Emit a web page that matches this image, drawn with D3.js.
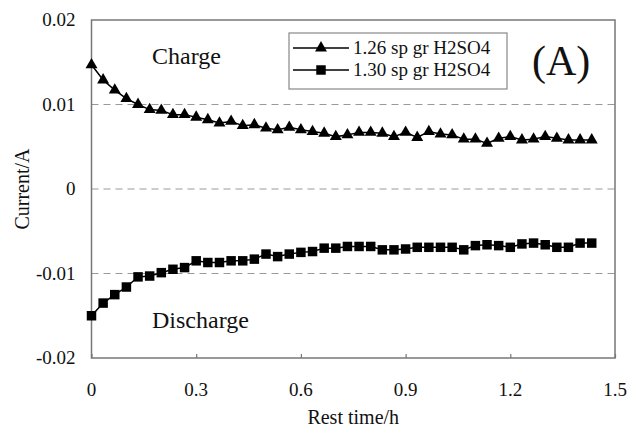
<!DOCTYPE html>
<html>
<head>
<meta charset="utf-8">
<script src="https://cdn.jsdelivr.net/npm/d3@7"></script>
<style>
  body { margin: 0; background: #fff; }
  text { font-family: "Liberation Serif", "DejaVu Serif", serif; fill: #111; }
</style>
</head>
<body>
<div id="chart"></div>
<script>
// rest time sampled every 2 minutes (1/30 h), 44 samples
const restTime = d3.range(44).map(i => i / 30);

const charge126 = [
  0.0147, 0.0129, 0.0117, 0.0107, 0.0100, 0.0094, 0.0093, 0.0088, 0.0088, 0.0085,
  0.0082, 0.0078, 0.0080, 0.0075, 0.0076, 0.0072, 0.0070, 0.0073, 0.0070, 0.0068,
  0.0066, 0.0062, 0.0064, 0.0067, 0.0067, 0.0066, 0.0062, 0.0067, 0.0061, 0.0068,
  0.0065, 0.0064, 0.0059, 0.0059, 0.0054, 0.0060, 0.0062, 0.0058, 0.0059, 0.0062,
  0.0060, 0.0058, 0.0058, 0.0058
];

const discharge130 = [
  -0.0150, -0.0135, -0.0125, -0.0116, -0.0104, -0.0103, -0.0099, -0.0095, -0.0093, -0.0085,
  -0.0087, -0.0087, -0.0085, -0.0085, -0.0083, -0.0077, -0.0080, -0.0077, -0.0075, -0.0074,
  -0.0070, -0.0070, -0.0068, -0.0068, -0.0068, -0.0072, -0.0072, -0.0071, -0.0069, -0.0069,
  -0.0069, -0.0069, -0.0072, -0.0067, -0.0066, -0.0067, -0.0069, -0.0065, -0.0064, -0.0066,
  -0.0069, -0.0069, -0.0064, -0.0064
];

const xTicks = [0, 0.3, 0.6, 0.9, 1.2, 1.5];
const yTicks = [-0.02, -0.01, 0, 0.01, 0.02];
const gridValues = [-0.01, 0, 0.01];
const seriesNames = ["1.26 sp gr H2SO4", "1.30 sp gr H2SO4"];

const width = 628, height = 428;
const margin = { top: 20, right: 13, bottom: 70, left: 91.5 };

const svg = d3.select("#chart").append("svg")
  .attr("width", width).attr("height", height);

const x = d3.scaleLinear().domain([0, 1.5]).range([margin.left, width - margin.right]);
const y = d3.scaleLinear().domain([-0.02, 0.02]).range([height - margin.bottom, margin.top]);

// plain hyphen minus like the original
const fmtY = d => d === 0 ? "0" : d3.format(".2f")(d).replace("\u2212", "-");
const fmtX = d => d === 0 ? "0" : d3.format(".1f")(d);

// dashed grid
svg.append("g").selectAll("line").data(gridValues).join("line")
  .attr("x1", x(0)).attr("x2", x(1.5))
  .attr("y1", d => y(d)).attr("y2", d => y(d))
  .attr("stroke", "#999").attr("stroke-width", 1.2)
  .attr("stroke-dasharray", "7,5");

// frame
svg.append("rect")
  .attr("x", x(0)).attr("y", y(0.02))
  .attr("width", x(1.5) - x(0)).attr("height", y(-0.02) - y(0.02))
  .attr("fill", "none").attr("stroke", "#777").attr("stroke-width", 1.5);

// x axis ticks (inward)
const xAxis = svg.append("g")
  .attr("transform", `translate(0,${y(-0.02)})`)
  .call(d3.axisTop(x).tickValues(xTicks).tickSize(4).tickFormat(""));
xAxis.select(".domain").remove();
xAxis.selectAll("line").attr("stroke", "#777").attr("stroke-width", 1.2);

svg.append("g").selectAll("text").data(xTicks).join("text")
  .attr("x", d => x(d)).attr("y", y(-0.02) + 38)
  .attr("text-anchor", "middle").style("font-size", "19px")
  .text(fmtX);

// y axis labels
svg.append("g").selectAll("text").data(yTicks).join("text")
  .attr("x", x(0) - 16).attr("y", d => y(d) + 6)
  .attr("text-anchor", "end").style("font-size", "19px")
  .text(fmtY);

// axis titles
svg.append("text")
  .attr("x", (x(0) + x(1.5)) / 2).attr("y", 424)
  .attr("text-anchor", "middle").style("font-size", "20px")
  .text("Rest time/h");

svg.append("text")
  .attr("transform", `translate(29,${y(0)}) rotate(-90)`)
  .attr("text-anchor", "middle").style("font-size", "20px")
  .text("Current/A");

// series
const line = d3.line().x(d => x(d[0])).y(d => y(d[1]));
const triData = restTime.map((t, i) => [t, charge126[i]]);
const sqData = restTime.map((t, i) => [t, discharge130[i]]);

const tri = d3.symbol().type(d3.symbolTriangle).size(62);
const sq = d3.symbol().type(d3.symbolSquare).size(90);

svg.append("path").datum(triData)
  .attr("fill", "none").attr("stroke", "#000").attr("stroke-width", 1.5).attr("d", line);
svg.append("g").selectAll("path").data(triData).join("path")
  .attr("transform", d => `translate(${x(d[0])},${y(d[1])})`)
  .attr("d", tri).attr("fill", "#000");

svg.append("path").datum(sqData)
  .attr("fill", "none").attr("stroke", "#000").attr("stroke-width", 1.5).attr("d", line);
svg.append("g").selectAll("path").data(sqData).join("path")
  .attr("transform", d => `translate(${x(d[0])},${y(d[1])})`)
  .attr("d", sq).attr("fill", "#000");

// annotations
svg.append("text").attr("x", 152).attr("y", 64).style("font-size", "24px").text("Charge");
svg.append("text").attr("x", 152).attr("y", 328).style("font-size", "24px").text("Discharge");
svg.append("text").attr("x", 532).attr("y", 75).style("font-size", "42px").text("(A)");

// legend
const legend = svg.append("g");
legend.append("rect")
  .attr("x", 289).attr("y", 33).attr("width", 218).attr("height", 56)
  .attr("fill", "#fff").attr("stroke", "#888").attr("stroke-width", 1.2);

const legendRows = [
  { name: seriesNames[0], symbol: tri, cy: 48 },
  { name: seriesNames[1], symbol: sq, cy: 70 }
];
legendRows.forEach(r => {
  legend.append("line")
    .attr("x1", 293).attr("x2", 349).attr("y1", r.cy).attr("y2", r.cy)
    .attr("stroke", "#000").attr("stroke-width", 1.5);
  legend.append("path")
    .attr("transform", `translate(321,${r.cy})`)
    .attr("d", r.symbol).attr("fill", "#000");
  legend.append("text")
    .attr("x", 353).attr("y", r.cy + 6).style("font-size", "19px")
    .text(r.name);
});
</script>
</body>
</html>
